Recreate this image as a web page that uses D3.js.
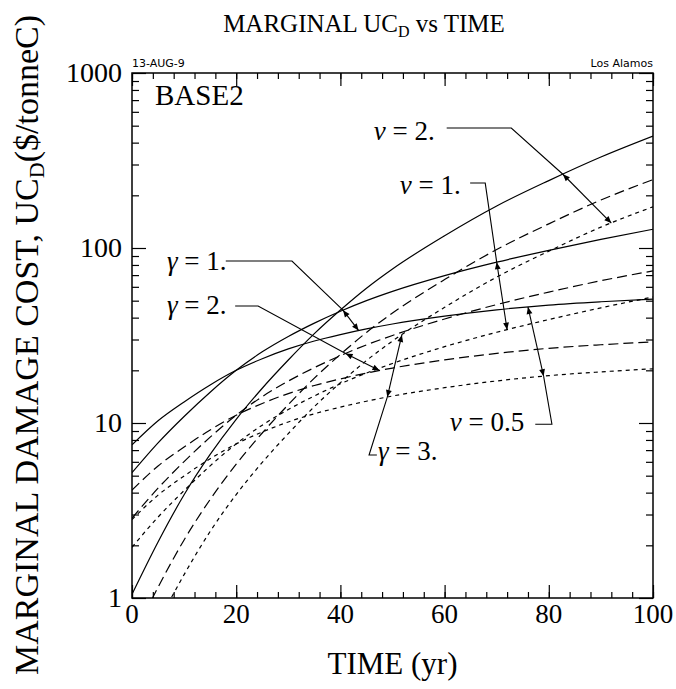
<!DOCTYPE html>
<html><head><meta charset="utf-8">
<script src="https://cdn.jsdelivr.net/npm/d3@7"></script>
<style>body{margin:0;background:#fff}svg{display:block}</style>
</head><body>
<svg id="chart" width="676" height="689"></svg>
<script>
// ---- data ----
const years = [0,5,10,15,20,25,30,35,40,45,50,60,70,80,90,100];
// nu = 0.5
const solidNu05 = [7.5,10.3,13.2,16.5,20,23.3,26.5,29.4,32,34.5,36.8,40.8,44.3,47.2,49.3,51];
const longNu05  = [4.13,5.68,7.29,9.12,11.08,12.93,14.73,16.38,17.86,19.29,20.61,22.93,24.99,26.72,28.0,29.07];
const shortNu05 = [2.81,3.87,4.98,6.25,7.6,8.88,10.14,11.29,12.32,13.32,14.26,15.91,17.39,18.64,19.6,20.4];
// nu = 1
const solidNu1 = [5.2,7.7,10.9,15.0,20.0,25.5,31.2,37.2,43.5,50,56.5,69.5,83,97,112,128];
const longNu1  = [2.86,4.24,6.02,8.30,11.08,14.15,17.35,20.72,24.27,27.95,31.64,39.3,47.5,56,65,74];
const shortNu1 = [1.95,2.90,4.11,5.69,7.6,9.72,11.93,14.28,16.75,19.3,21.89,27.3,33.0,39.0,45.5,52.5];
// nu = 2
const solidNu2 = [1.05,2.09,3.89,6.61,10.5,15.8,22.9,32.4,44.2,58.9,75.9,117.5,173.8,242.7,331,436];
const longNu2  = [0.578,1.152,2.147,3.655,5.817,8.769,12.73,18.05,24.66,32.93,42.5,66.0,98.0,137.4,188,246];
const shortNu2 = [0.36,0.72,1.36,2.4,3.9,5.95,8.7,12.4,17.0,22.74,29.41,45.8,68.2,95.9,131.6,172];

const xTickLabels = [0,20,40,60,80,100];
const yTickLabels = [1,10,100,1000];

// ---- layout ----
const svg = d3.select("#chart");
const F = {left:132, right:653, top:73, bottom:598};
const x = d3.scaleLinear().domain([0,100]).range([F.left,F.right]);
const y = d3.scaleLog().domain([1,1000]).range([F.bottom,F.top]);
const serif = "'Liberation Serif', 'Times New Roman', serif";
const sans = "'DejaVu Sans', sans-serif";

const defs = svg.append("defs");
defs.append("clipPath").attr("id","clip").append("rect")
  .attr("x",F.left).attr("y",F.top).attr("width",F.right-F.left).attr("height",F.bottom-F.top);
defs.append("marker").attr("id","arr").attr("viewBox","0 0 10 10")
  .attr("refX",10).attr("refY",5).attr("markerWidth",10).attr("markerHeight",7)
  .attr("markerUnits","userSpaceOnUse").attr("orient","auto-start-reverse")
  .append("path").attr("d","M0,0.8L10,5L0,9.2Z").attr("fill","#000");

// ---- series ----
const series = [
  {key:"solidNu05", v:solidNu05, dash:null},
  {key:"longNu05", v:longNu05, dash:"10,5"},
  {key:"shortNu05", v:shortNu05, dash:"4,4"},
  {key:"solidNu1", v:solidNu1, dash:null},
  {key:"longNu1", v:longNu1, dash:"10,5"},
  {key:"shortNu1", v:shortNu1, dash:"4,4"},
  {key:"solidNu2", v:solidNu2, dash:null},
  {key:"longNu2", v:longNu2, dash:"10,5"},
  {key:"shortNu2", v:shortNu2, dash:"4,4"}
];
const byKey = {}; series.forEach(s=>byKey[s.key]=s.v);

const line = d3.line().x((d,i)=>x(years[i])).y(d=>y(d)).curve(d3.curveMonotoneX);
svg.append("g").attr("clip-path","url(#clip)")
  .selectAll("path").data(series).join("path")
  .attr("d",d=>line(d.v)).attr("fill","none").attr("stroke","#000")
  .attr("stroke-width",1.2).attr("stroke-dasharray",d=>d.dash);

// ---- frame & ticks ----
svg.append("rect").attr("x",F.left).attr("y",F.top).attr("width",F.right-F.left)
  .attr("height",F.bottom-F.top).attr("fill","none").attr("stroke","#000").attr("stroke-width",1.5);

const xMinor = d3.range(0,101,4);
const yMinor = [];
[1,10,100].forEach(d=>{for(let k=2;k<=9;k++) yMinor.push(d*k);});

function tickGroup(axis, tr){
  const g = svg.append("g").attr("transform",tr).call(axis);
  g.select(".domain").remove();
  g.selectAll("line").attr("stroke","#000").attr("stroke-width",1.2);
  g.selectAll("text").remove();
  return g;
}
tickGroup(d3.axisBottom(x).tickValues(xMinor).tickSize(-6),`translate(0,${F.bottom})`);
tickGroup(d3.axisBottom(x).tickValues(xTickLabels).tickSize(-13),`translate(0,${F.bottom})`);
tickGroup(d3.axisTop(x).tickValues(xMinor).tickSize(-6),`translate(0,${F.top})`);
tickGroup(d3.axisTop(x).tickValues(xTickLabels).tickSize(-13),`translate(0,${F.top})`);
tickGroup(d3.axisLeft(y).tickValues(yMinor).tickSize(-7),`translate(${F.left},0)`);
tickGroup(d3.axisLeft(y).tickValues(yTickLabels).tickSize(-14),`translate(${F.left},0)`);
tickGroup(d3.axisRight(y).tickValues(yMinor).tickSize(-7),`translate(${F.right},0)`);
tickGroup(d3.axisRight(y).tickValues(yTickLabels).tickSize(-14),`translate(${F.right},0)`);

// tick labels
svg.append("g").selectAll("text").data(xTickLabels).join("text")
  .attr("x",d=>x(d)).attr("y",F.bottom+25).attr("text-anchor","middle")
  .attr("font-family",serif).attr("font-size",27).text(d=>d);
svg.append("g").selectAll("text").data(yTickLabels).join("text")
  .attr("x",F.left-10).attr("y",d=>y(d)+9).attr("text-anchor","end")
  .attr("font-family",serif).attr("font-size",28).text(d=>d);

// ---- titles ----
const title = svg.append("text").attr("x",364).attr("y",32).attr("text-anchor","middle")
  .attr("font-family",serif).attr("font-size",25);
title.append("tspan").text("MARGINAL UC");
title.append("tspan").attr("font-size",16).attr("dy",5).text("D");
title.append("tspan").attr("dy",-5).text(" vs TIME");

svg.append("text").attr("x",(F.left+F.right)/2).attr("y",674).attr("text-anchor","middle")
  .attr("font-family",serif).attr("font-size",31).text("TIME (yr)");

const yl = svg.append("text").attr("transform","translate(38,345) rotate(-90)")
  .attr("text-anchor","middle").attr("font-family",serif).attr("font-size",34);
yl.append("tspan").text("MARGINAL DAMAGE COST, UC");
yl.append("tspan").attr("font-size",22).attr("dy",6).text("D");
yl.append("tspan").attr("dy",-6).text("($/tonneC)");

svg.append("text").attr("x",F.left).attr("y",F.top-6).attr("font-family",sans)
  .attr("font-size",11).text("13-AUG-9");
svg.append("text").attr("x",F.right).attr("y",F.top-6).attr("text-anchor","end")
  .attr("font-family",sans).attr("font-size",11).text("Los Alamos");
svg.append("text").attr("x",155).attr("y",105).attr("font-family",serif)
  .attr("font-size",29).text("BASE2");

// ---- annotations ----
function valAt(vals,t){
  let i = d3.bisectRight(years,t)-1; i = Math.max(0,Math.min(years.length-2,i));
  const f=(t-years[i])/(years[i+1]-years[i]);
  return Math.exp(Math.log(vals[i])*(1-f)+Math.log(vals[i+1])*f);
}
const notes = [
  {sym:"ν", rest:" = 2.", tx:46.4, tv:414, leader:[[60.4,485],[72.8,485]], a:["solidNu2",82.7], b:["shortNu2",92]},
  {sym:"ν", rest:" = 1.", tx:51.4, tv:204, leader:[[64.9,235],[67.8,235]], a:["solidNu1",70], b:["shortNu1",72]},
  {sym:"ν", rest:" = 0.5", tx:61, tv:9.0, leader:[[77.4,9.84],[80.6,9.84]], a:["shortNu05",79], b:["solidNu05",76]},
  {sym:"γ", rest:" = 1.", tx:6.7, tv:74.9, leader:[[18,84.3],[30.7,84.3]], a:["solidNu1",40.5], b:["solidNu05",43.5]},
  {sym:"γ", rest:" = 2.", tx:6.7, tv:42, leader:[[19.8,46.6],[24.2,46.6]], a:["longNu1",41], b:["longNu05",47.5]},
  {sym:"γ", rest:" = 3.", tx:47.2, tv:6.14, leader:[[47,6.56],[45.5,6.56]], a:["shortNu05",49], b:["shortNu2",51.8]}
];
const ag = svg.append("g");
notes.forEach(n=>{
  const t = ag.append("text").attr("x",x(n.tx)).attr("y",y(n.tv))
    .attr("font-family",serif).attr("font-size",27);
  t.append("tspan").attr("font-style","italic").text(n.sym);
  t.append("tspan").text(n.rest);
  const pa = [x(n.a[1]), y(valAt(byKey[n.a[0]],n.a[1]))];
  const pb = [x(n.b[1]), y(valAt(byKey[n.b[0]],n.b[1]))];
  const pts = n.leader.map(p=>[x(p[0]),y(p[1])]).concat([pa]);
  ag.append("path").attr("d",d3.line()(pts)).attr("fill","none").attr("stroke","#000").attr("stroke-width",1.1);
  ag.append("path").attr("d",d3.line()([pa,pb])).attr("fill","none").attr("stroke","#000")
    .attr("stroke-width",1.1).attr("marker-start","url(#arr)").attr("marker-end","url(#arr)");
});
</script>
</body></html>
